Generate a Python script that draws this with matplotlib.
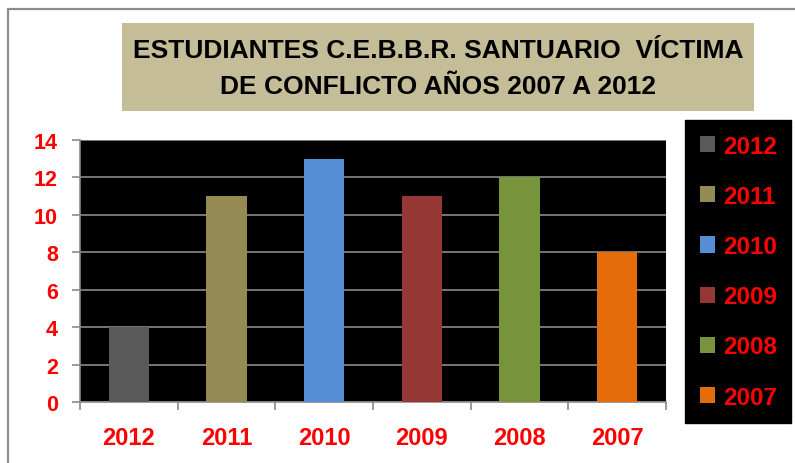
import matplotlib
matplotlib.use('agg')
import matplotlib.pyplot as plt
from matplotlib.patches import Rectangle, Patch
import numpy as np

# data
years = ['2012', '2011', '2010', '2009', '2008', '2007']
students = [4, 11, 13, 11, 12, 8]
colors = ['#595959', '#948A54', '#558ED5', '#953735', '#77933C', '#E46C0A']
y_ticks = [0, 2, 4, 6, 8, 10, 12, 14]

W, H = 795, 464
fig = plt.figure(figsize=(W / 100, H / 100), dpi=100)

# outer chart frame (runs off the right and bottom edges)
fig.patches.append(Rectangle((8 / W, -0.1), 1.1, 1 - 10 / H + 0.1,
                             transform=fig.transFigure, fill=False,
                             edgecolor='#8c8c8c', linewidth=1.6))

# title box
fig.patches.append(Rectangle((122 / W, 1 - 112 / H), (754 - 122) / W, (112 - 24) / H,
                             transform=fig.transFigure, facecolor='#C4BD97',
                             edgecolor='none'))
fig.text(438 / W, 1 - 69 / H,
         'ESTUDIANTES C.E.B.B.R. SANTUARIO  VÍCTIMA\nDE CONFLICTO AÑOS 2007 A 2012',
         ha='center', va='center', fontsize=19, fontweight='bold',
         family='Liberation Sans', linespacing=1.65)

ax = fig.add_axes([80 / W, 1 - 403 / H, (666 - 80) / W, (403 - 141) / H])
ax.set_facecolor('black')
x = np.arange(len(years))
bars = ax.bar(x, students, width=0.41, color=colors, zorder=3)

ax.set_xlim(-0.5, len(years) - 0.5)
ax.set_ylim(0, 14)
ax.set_yticks(y_ticks)
ax.yaxis.grid(True, color='#8a8a8a', linewidth=1.2, zorder=1)
ax.set_axisbelow(True)

ax.set_xticks(x)
ax.set_xticklabels(years)
ax.set_xticks(np.arange(-0.5, len(years)), minor=True)
ax.tick_params(axis='x', which='major', length=0, pad=17)
ax.tick_params(axis='x', which='minor', length=6, width=1.2, color='#8a8a8a', direction='out')
ax.tick_params(axis='y', length=6, width=1.2, color='#8a8a8a', pad=10)

for lbl in ax.get_xticklabels():
    lbl.set_color('red')
    lbl.set_fontweight('bold')
    lbl.set_fontsize(17)
    lbl.set_family('Liberation Sans')
for lbl in ax.get_yticklabels():
    lbl.set_color('red')
    lbl.set_fontweight('bold')
    lbl.set_fontsize(15.5)
    lbl.set_family('Liberation Sans')

for side in ['top', 'right']:
    ax.spines[side].set_visible(False)
for side in ['left', 'bottom']:
    ax.spines[side].set_color('#8a8a8a')
    ax.spines[side].set_linewidth(1.2)

handles = [Patch(facecolor=c, edgecolor='none') for c in colors]
leg = fig.legend(handles, years, loc='upper left',
                 bbox_to_anchor=(685 / W, 1 - 121 / H),
                 facecolor='black', edgecolor='black', framealpha=1,
                 fancybox=False, labelcolor='red',
                 prop={'family': 'Liberation Sans', 'weight': 'bold', 'size': 17.5},
                 handlelength=0.65, handleheight=0.65, handletextpad=0.3,
                 labelspacing=1.12, borderpad=0.6, borderaxespad=0)

fig.savefig('out.png', dpi=100)
